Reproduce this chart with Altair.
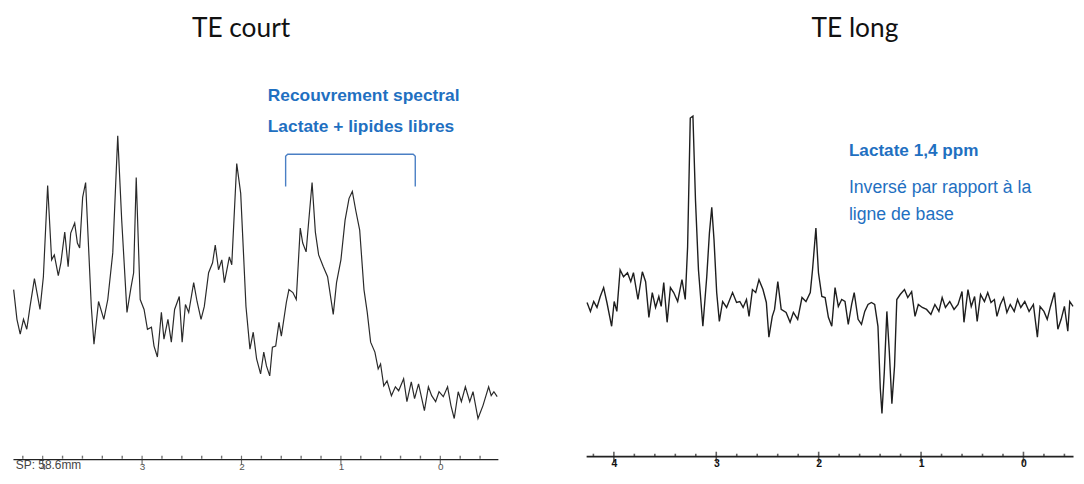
import altair as alt
import pandas as pd

# ---------------- data ----------------
left_ppm = [4.292, 4.259, 4.226, 4.193, 4.160, 4.127, 4.083, 4.027, 3.993, 3.950,
            3.910, 3.883, 3.843, 3.817, 3.778, 3.744, 3.718, 3.678, 3.651, 3.628,
            3.598, 3.568, 3.538, 3.511, 3.484, 3.438, 3.385, 3.345, 3.295, 3.245,
            3.205, 3.152, 3.112, 3.085, 3.059, 3.019, 2.980, 2.946, 2.906, 2.880,
            2.846, 2.806, 2.780, 2.740, 2.706, 2.673, 2.626, 2.597, 2.564, 2.531,
            2.481, 2.447, 2.407, 2.374, 2.331, 2.291, 2.264, 2.231, 2.198, 2.172,
            2.122, 2.098, 2.048, 2.008, 1.955, 1.915, 1.882, 1.848, 1.808, 1.776,
            1.749, 1.716, 1.689, 1.656, 1.623, 1.599, 1.549, 1.523, 1.483, 1.449,
            1.409, 1.384, 1.350, 1.334, 1.290, 1.257, 1.224, 1.177, 1.134, 1.077,
            1.044, 1.000, 0.958, 0.918, 0.885, 0.851, 0.811, 0.768, 0.735, 0.701,
            0.658, 0.625, 0.601, 0.569, 0.536, 0.492, 0.452, 0.419, 0.369, 0.336,
            0.292, 0.259, 0.219, 0.160, 0.120, 0.087, 0.047, 0.013, -0.030, -0.073,
            -0.107, -0.140, -0.180, -0.212, -0.252, -0.296, -0.329, -0.379, -0.429, -0.486,
            -0.512, -0.539, -0.572]
left_amp = [1.78, 1.48, 1.33, 1.48, 1.38, 1.61, 1.89, 1.58, 1.91, 2.83,
            2.08, 2.13, 1.92, 2.05, 2.36, 2.01, 2.35, 2.45, 2.25, 2.20,
            2.71, 2.86, 2.20, 1.61, 1.23, 1.66, 1.48, 1.68, 2.15, 3.33,
            2.48, 1.55, 1.80, 1.95, 2.91, 1.68, 1.58, 1.38, 1.40, 1.21,
            1.10, 1.55, 1.28, 1.48, 1.25, 1.58, 1.71, 1.25, 1.63, 1.55,
            1.85, 1.66, 1.48, 1.61, 1.95, 2.05, 2.23, 1.98, 2.08, 1.85,
            2.11, 2.03, 3.05, 2.75, 1.61, 1.18, 1.35, 1.08, 0.93, 1.15,
            1.01, 0.91, 1.20, 1.21, 1.45, 1.31, 1.65, 1.78, 1.75, 1.68,
            2.40, 2.25, 2.16, 2.35, 2.86, 2.36, 2.13, 2.01, 1.91, 1.53,
            1.85, 2.08, 2.48, 2.70, 2.77, 2.58, 2.38, 1.78, 1.55, 1.25,
            1.15, 0.98, 1.03, 0.81, 0.86, 0.71, 0.80, 0.76, 0.88, 0.65,
            0.85, 0.68, 0.83, 0.56, 0.80, 0.71, 0.65, 0.75, 0.70, 0.80,
            0.61, 0.48, 0.75, 0.65, 0.80, 0.65, 0.75, 0.48, 0.61, 0.80,
            0.71, 0.75, 0.70]

right_ppm = [4.262, 4.229, 4.197, 4.165, 4.133, 4.100, 4.068, 4.022, 3.997, 3.971,
             3.939, 3.906, 3.867, 3.835, 3.809, 3.765, 3.722, 3.690, 3.658, 3.625,
             3.593, 3.561, 3.538, 3.513, 3.480, 3.448, 3.416, 3.377, 3.335, 3.303,
             3.280, 3.254, 3.228, 3.203, 3.174, 3.131, 3.093, 3.067, 3.044, 3.022,
             2.996, 2.970, 2.938, 2.899, 2.841, 2.802, 2.770, 2.738, 2.705, 2.680,
             2.647, 2.615, 2.583, 2.544, 2.511, 2.486, 2.453, 2.431, 2.399, 2.366,
             2.318, 2.279, 2.247, 2.205, 2.163, 2.124, 2.082, 2.060, 2.027, 2.002,
             1.969, 1.937, 1.905, 1.872, 1.840, 1.808, 1.775, 1.743, 1.711, 1.678,
             1.653, 1.615, 1.582, 1.550, 1.518, 1.485, 1.453, 1.421, 1.398, 1.382,
             1.359, 1.334, 1.310, 1.285, 1.259, 1.237, 1.204, 1.162, 1.130, 1.092,
             1.059, 1.027, 0.988, 0.946, 0.904, 0.865, 0.826, 0.794, 0.762, 0.720,
             0.678, 0.639, 0.600, 0.581, 0.542, 0.510, 0.477, 0.452, 0.419, 0.381,
             0.349, 0.317, 0.284, 0.259, 0.226, 0.194, 0.162, 0.129, 0.090, 0.058,
             0.026, -0.013, -0.055, -0.097, -0.136, -0.162, -0.200, -0.232, -0.264, -0.303,
             -0.336, -0.368, -0.400, -0.433, -0.452, -0.484, -0.516, -0.549]
right_amp = [0.02, -0.07, 0.03, -0.03, 0.08, 0.17, 0.02, -0.22, 0.03, -0.07,
             0.35, 0.28, 0.32, 0.23, 0.32, 0.05, 0.33, 0.23, -0.13, 0.12,
             -0.03, 0.08, -0.02, 0.22, -0.18, 0.17, 0.12, 0.03, 0.25, 0.05,
             0.58, 1.88, 1.90, 1.05, 0.35, -0.22, 0.28, 0.72, 0.98, 0.65,
             0.12, -0.17, 0.03, -0.03, 0.12, 0.02, 0.03, -0.03, 0.05, -0.12,
             0.15, 0.12, 0.25, 0.15, 0.02, -0.33, -0.12, -0.05, 0.23, -0.05,
             -0.08, -0.18, -0.08, -0.15, 0.07, 0.03, 0.12, 0.35, 0.77, 0.32,
             0.08, 0.07, -0.13, -0.22, 0.17, -0.02, 0.05, 0.03, -0.20, 0.00,
             0.12, -0.15, -0.20, -0.07, 0.00, 0.02, 0.00, -0.22, -0.85, -1.10,
             -0.68, -0.07, -0.48, -1.00, -0.62, 0.05, 0.10, 0.15, 0.07, 0.13,
             -0.12, 0.00, -0.03, -0.05, -0.10, 0.00, -0.07, 0.07, -0.03, 0.03,
             -0.05, 0.00, 0.13, -0.18, 0.15, -0.02, 0.08, -0.17, 0.10, 0.03,
             0.12, 0.02, 0.05, -0.12, 0.00, 0.07, -0.08, 0.00, -0.07, 0.05,
             -0.03, 0.03, -0.07, 0.00, -0.33, -0.02, -0.07, -0.15, -0.02, 0.12,
             -0.25, -0.15, -0.02, -0.27, 0.03, -0.02, -0.07, -0.03]

major_ticks = [4, 3, 2, 1, 0]
minor_ticks = [4.2, 3.8, 3.6, 3.4, 3.2, 2.8, 2.6, 2.4, 2.2, 1.8, 1.6, 1.4, 1.2,
               0.8, 0.6, 0.4, 0.2, -0.2, -0.4]

panel_titles = ["TE court", "TE long"]
left_notes_bold = ["Recouvrement spectral", "Lactate + lipides libres"]
right_note_bold = ["Lactate 1,4 ppm"]
right_notes = ["Inversé par rapport à la", "ligne de base"]
sp_label = ["SP: 58.6mm"]

# bracket over the lactate + lipids region (ppm, height)
bracket_ppm = [1.556, 1.556, 1.536, 0.272, 0.252, 0.252]
bracket_amp = [2.82, 3.125, 3.145, 3.145, 3.125, 2.82]

# axis ranges (ppm, reversed) and intensity ranges
left_x_domain = [-0.579, 4.299]
left_y_domain = [0.07, 4.60]
right_x_domain = [-0.484, 4.271]
right_y_domain = [-1.53, 2.97]

BLUE = "#1f70c1"
INK = "#1e1e1e"


def encodings(xdom, ydom, label_color, label_weight, label_size, dom_width):
    x = alt.X("ppm:Q",
              scale=alt.Scale(domain=xdom, reverse=True, nice=False, zero=False),
              axis=alt.Axis(values=major_ticks, format="d", ticks=False, grid=False,
                            domainColor="#222222", domainWidth=dom_width,
                            labelColor=label_color, labelFontWeight=label_weight,
                            labelFontSize=label_size, labelFont="Liberation Sans",
                            labelPadding=2, labelFlush=False, labelOverlap=False,
                            title=None))
    y = alt.Y("amp:Q", scale=alt.Scale(domain=ydom, nice=False, zero=False), axis=None)
    return x, y


def text_layer(df, x, y, size, weight, color, align, font):
    return alt.Chart(df).mark_text(
        align=align, baseline="alphabetic", fontSize=size, fontWeight=weight,
        color=color, font=font
    ).encode(x=x, y=y, text="label:N")


# ---------------- left panel ----------------
lx, ly = encodings(left_x_domain, left_y_domain, "#555555", "normal", 10, 1.3)
left_df = pd.DataFrame({"ppm": left_ppm, "amp": left_amp})
l_major = pd.DataFrame({"ppm": major_ticks, "amp": [left_y_domain[0]] * len(major_ticks)})
l_minor = pd.DataFrame({"ppm": minor_ticks, "amp": [left_y_domain[0]] * len(minor_ticks)})
l_title = pd.DataFrame({"ppm": [2.005], "amp": [4.33], "label": [panel_titles[0]]})
l_notes = pd.DataFrame({"ppm": [1.736, 1.736], "amp": [3.68, 3.37], "label": left_notes_bold})
l_sp = pd.DataFrame({"ppm": [4.27], "amp": [-0.03], "label": sp_label})
bracket_df = pd.DataFrame({"ppm": bracket_ppm, "amp": bracket_amp,
                           "k": list(range(len(bracket_ppm)))})

left = alt.layer(
    alt.Chart(left_df).mark_line(color="#2a2a2a", strokeWidth=1.2).encode(x=lx, y=ly),
    alt.Chart(l_major).mark_tick(orient="vertical", size=9, thickness=1.2, color="#333333",
                                 yOffset=1).encode(x=lx, y=ly),
    alt.Chart(l_minor).mark_tick(orient="vertical", size=3, thickness=1.4, color="#333333",
                                 yOffset=-2).encode(x=lx, y=ly),
    alt.Chart(bracket_df).mark_line(color="#4a7fc4", strokeWidth=1.4, strokeJoin="round",
                                    interpolate="linear").encode(x=lx, y=ly, order="k:Q"),
    text_layer(l_title, lx, ly, 26.5, "normal", "#111111", "center", "Lato"),
    text_layer(l_notes, lx, ly, 17.5, "bold", BLUE, "left", "Liberation Sans"),
    text_layer(l_sp, lx, ly, 12, "normal", "#444444", "left", "Liberation Sans"),
).properties(width=489, height=453)

# ---------------- right panel ----------------
rx, ry = encodings(right_x_domain, right_y_domain, "#111111", "bold", 10.5, 1.8)
right_df = pd.DataFrame({"ppm": right_ppm, "amp": right_amp})
r_major = pd.DataFrame({"ppm": major_ticks, "amp": [right_y_domain[0]] * len(major_ticks)})
r_minor = pd.DataFrame({"ppm": minor_ticks, "amp": [right_y_domain[0]] * len(minor_ticks)})
r_title = pd.DataFrame({"ppm": [1.646], "amp": [2.70], "label": [panel_titles[1]]})
r_bold = pd.DataFrame({"ppm": [1.705], "amp": [1.50], "label": right_note_bold})
r_notes = pd.DataFrame({"ppm": [1.705, 1.705], "amp": [1.12, 0.85], "label": right_notes})

right = alt.layer(
    alt.Chart(right_df).mark_line(color=INK, strokeWidth=1.4).encode(x=rx, y=ry)
    .transform_filter(alt.datum.ppm >= right_x_domain[0]),
    alt.Chart(r_major).mark_tick(orient="vertical", size=11, thickness=1.6, color=INK,
                                 yOffset=1).encode(x=rx, y=ry),
    alt.Chart(r_minor).mark_tick(orient="vertical", size=3, thickness=1.6, color=INK,
                                 yOffset=-1).encode(x=rx, y=ry),
    text_layer(r_title, rx, ry, 26.5, "normal", "#111111", "center", "Lato"),
    text_layer(r_bold, rx, ry, 17.3, "bold", BLUE, "left", "Liberation Sans"),
    text_layer(r_notes, rx, ry, 17.8, "normal", BLUE, "left", "Liberation Sans"),
).properties(width=491, height=450)

chart = alt.hconcat(left, right, spacing=85).properties(
    padding={"left": 3, "top": 0, "right": 0, "bottom": 0}
).configure_view(stroke=None)

chart.save("out.html", embed_options={"renderer": "svg", "actions": False})
